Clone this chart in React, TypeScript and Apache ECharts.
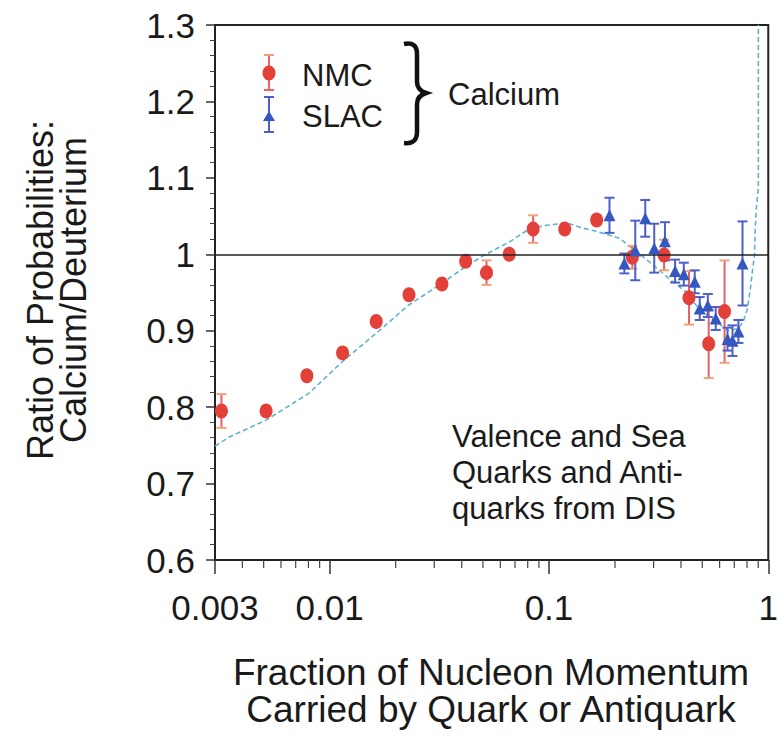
import React, { useEffect, useRef } from 'react';
import * as echarts from 'echarts';

// NMC (Calcium/Deuterium) data
const nmcX = [0.00321, 0.00513, 0.00787, 0.01145, 0.0163, 0.023, 0.0325, 0.0417, 0.0519, 0.0659, 0.0847, 0.118, 0.165, 0.24, 0.335, 0.435, 0.535, 0.632];
const nmcY = [0.795, 0.795, 0.841, 0.871, 0.912, 0.947, 0.961, 0.991, 0.976, 1.0, 1.033, 1.033, 1.045, 0.996, 0.999, 0.943, 0.883, 0.925];
const nmcErr = [0.022, 0.006, 0.006, 0.006, 0.006, 0.006, 0.006, 0.006, 0.016, 0.006, 0.018, 0.006, 0.006, 0.015, 0.02, 0.035, 0.045, 0.067];

// SLAC data
const slacX = [0.1888, 0.2207, 0.2475, 0.2748, 0.302, 0.338, 0.376, 0.412, 0.462, 0.487, 0.53, 0.576, 0.652, 0.687, 0.731, 0.763];
const slacY = [1.051, 0.988, 1.005, 1.047, 1.008, 1.017, 0.978, 0.974, 0.964, 0.929, 0.933, 0.916, 0.889, 0.887, 0.899, 0.988];
const slacErr = [0.023, 0.013, 0.039, 0.024, 0.032, 0.025, 0.015, 0.015, 0.015, 0.015, 0.015, 0.015, 0.015, 0.02, 0.015, 0.055];

// Theory curve
const curveX = [0.003, 0.00349, 0.00513, 0.00803, 0.01157, 0.01667, 0.02276, 0.0325, 0.0417, 0.0508, 0.0667, 0.082, 0.098, 0.1206, 0.1439, 0.165, 0.2094, 0.25, 0.2986, 0.353, 0.421, 0.482, 0.575, 0.659, 0.731, 0.771, 0.804, 0.829, 0.847, 0.865, 0.873, 0.883, 0.901, 0.901];
const curveY = [0.749, 0.761, 0.783, 0.818, 0.861, 0.899, 0.933, 0.962, 0.984, 0.999, 1.017, 1.034, 1.038, 1.041, 1.034, 1.03, 1.021, 1.004, 0.986, 0.968, 0.951, 0.929, 0.912, 0.9, 0.903, 0.913, 0.929, 0.955, 0.978, 0.999, 1.034, 1.061, 1.087, 1.3];

const xMinorTicks = [0.004, 0.005, 0.006, 0.007, 0.008, 0.009, 0.02, 0.03, 0.04, 0.05, 0.06, 0.07, 0.08, 0.09, 0.2, 0.3, 0.4, 0.5, 0.6, 0.7, 0.8, 0.9];

const yTitle = ['Ratio of Probabilities:', 'Calcium/Deuterium'];
const xTitle = ['Fraction of Nucleon Momentum', 'Carried by Quark or Antiquark'];
const noteLines = ['Valence and Sea', 'Quarks and Anti-', 'quarks from DIS'];

const FONT = "'Liberation Sans', Arial, Helvetica, sans-serif";
const TXT = '#1a1a1a';
const RED = '#e3403a';
const RED_BAR = '#e8606a';
const RED_CAP = '#eea27a';
const BLUE = '#3558c0';
const BLUE_BAR = '#4d60c8';

echarts.graphic.registerShape(
  'brace',
  echarts.graphic.extendPath(
    'M 404 44 C 413 42 417 46 417 54 L 417 82 C 417 88 420 91 426 93 C 420 95 417 98 417 104 L 417 132 C 417 140 413 144 404 143',
    {}
  )
);

function errRender(barColor: string, capColor: string) {
  return (params: any, api: any) => {
    const x = api.value(0);
    const y = api.value(1);
    const e = api.value(2);
    const top = api.coord([x, y + e]);
    const bot = api.coord([x, y - e]);
    const hw = 5;
    return {
      type: 'group',
      children: [
        { type: 'line', shape: { x1: top[0], y1: top[1], x2: bot[0], y2: bot[1] }, style: { stroke: barColor, lineWidth: 2 } },
        { type: 'line', shape: { x1: top[0] - hw, y1: top[1], x2: top[0] + hw, y2: top[1] }, style: { stroke: capColor, lineWidth: 2 } },
        { type: 'line', shape: { x1: bot[0] - hw, y1: bot[1], x2: bot[0] + hw, y2: bot[1] }, style: { stroke: capColor, lineWidth: 2 } },
      ],
    };
  };
}

export default function App() {
  const ref = useRef<HTMLDivElement>(null);
  useEffect(() => {
    document.body.style.margin = '0';
    const chart = echarts.init(ref.current!, null, { renderer: 'svg' });
    const nmcData = nmcX.map((x, i) => [x, nmcY[i], nmcErr[i]]);
    const slacData = slacX.map((x, i) => [x, slacY[i], slacErr[i]]);
    const curveData = curveX.map((x, i) => [x, curveY[i]]);
    const option: any = {
      animation: false,
      backgroundColor: '#ffffff',
      grid: { left: 215, top: 25, right: 5, bottom: 176, show: true, borderColor: '#222', borderWidth: 2, backgroundColor: 'transparent' },
      xAxis: {
        type: 'log',
        logBase: 10,
        min: 0.003,
        max: 1,
        axisLine: { show: true, lineStyle: { color: '#222', width: 2 } },
        axisTick: { show: true, length: 14, lineStyle: { color: '#333', width: 1.5 } },
        splitLine: { show: false },
        axisLabel: {
          fontFamily: FONT,
          fontSize: 35,
          color: TXT,
          margin: 30,
          showMinLabel: true,
          showMaxLabel: true,
          formatter: (v: number) => String(+Number(v).toPrecision(3)),
        },
      },
      yAxis: {
        type: 'value',
        min: 0.6,
        max: 1.3,
        interval: 0.1,
        axisLine: { show: true, lineStyle: { color: '#222', width: 2 } },
        axisTick: { show: true, length: 9, lineStyle: { color: '#333', width: 1.5 } },
        minorTick: { show: true, splitNumber: 5, length: 5, lineStyle: { color: '#444', width: 1 } },
        splitLine: { show: false },
        axisLabel: {
          fontFamily: FONT,
          fontSize: 35,
          color: TXT,
          margin: 20,
          formatter: (v: number) => (Math.abs(v - 1) < 1e-9 ? '1' : v.toFixed(1)),
        },
      },
      series: [
        {
          type: 'line',
          name: 'curve',
          data: curveData,
          showSymbol: false,
          symbol: 'none',
          lineStyle: { color: '#5fb3cc', width: 1.6, type: [5, 3] },
          z: 2,
          markLine: {
            silent: true,
            symbol: 'none',
            label: { show: false },
            lineStyle: { color: '#222', width: 1.5, type: 'solid' },
            data: [{ yAxis: 1 }],
          },
        },
        {
          type: 'custom',
          name: 'xminor',
          data: xMinorTicks.map((v) => [v, 0.6]),
          clip: false,
          silent: true,
          renderItem: (params: any, api: any) => {
            const p = api.coord([api.value(0), 0.6]);
            return { type: 'line', shape: { x1: p[0], y1: p[1], x2: p[0], y2: p[1] + 8 }, style: { stroke: '#444', lineWidth: 1.2 } };
          },
          z: 1,
        },
        {
          type: 'custom',
          name: 'nmcErr',
          data: nmcData,
          encode: { x: 0, y: 1 },
          renderItem: errRender(RED_BAR, RED_CAP),
          z: 3,
        },
        {
          type: 'custom',
          name: 'slacErr',
          data: slacData,
          encode: { x: 0, y: 1 },
          renderItem: errRender(BLUE_BAR, BLUE_BAR),
          z: 3,
        },
        {
          type: 'scatter',
          name: 'NMC',
          data: nmcData.map((d) => [d[0], d[1]]),
          symbol: 'circle',
          symbolSize: [13, 15],
          itemStyle: { color: RED, opacity: 1 },
          z: 4,
        },
        {
          type: 'scatter',
          name: 'SLAC',
          data: slacData.map((d) => [d[0], d[1]]),
          symbol: 'triangle',
          symbolSize: 12,
          itemStyle: { color: BLUE, opacity: 1 },
          z: 5,
        },
      ],
      graphic: [
        // legend: NMC
        { type: 'line', shape: { x1: 269, y1: 55, x2: 269, y2: 90 }, style: { stroke: RED_BAR, lineWidth: 2 } },
        { type: 'line', shape: { x1: 264, y1: 55, x2: 274, y2: 55 }, style: { stroke: RED_CAP, lineWidth: 2 } },
        { type: 'line', shape: { x1: 264, y1: 90, x2: 274, y2: 90 }, style: { stroke: RED_BAR, lineWidth: 2 } },
        { type: 'ellipse', shape: { cx: 269, cy: 73, rx: 6.5, ry: 7.5 }, style: { fill: RED } },
        { type: 'text', x: 302, y: 75, style: { text: 'NMC', font: `31px ${FONT}`, fill: TXT, textAlign: 'left', textVerticalAlign: 'middle' } },
        // legend: SLAC
        { type: 'line', shape: { x1: 269, y1: 97, x2: 269, y2: 132 }, style: { stroke: BLUE_BAR, lineWidth: 2 } },
        { type: 'line', shape: { x1: 264, y1: 97, x2: 274, y2: 97 }, style: { stroke: BLUE_BAR, lineWidth: 2 } },
        { type: 'line', shape: { x1: 264, y1: 132, x2: 274, y2: 132 }, style: { stroke: BLUE_BAR, lineWidth: 2 } },
        { type: 'polygon', shape: { points: [[269, 111], [275, 121], [263, 121]] }, style: { fill: BLUE } },
        { type: 'text', x: 302, y: 116, style: { text: 'SLAC', font: `31px ${FONT}`, fill: TXT, textAlign: 'left', textVerticalAlign: 'middle' } },
        // brace + Calcium
        { type: 'brace', style: { stroke: '#111', lineWidth: 4.5, fill: 'none' } },
        { type: 'text', x: 448, y: 94, style: { text: 'Calcium', font: `31px ${FONT}`, fill: TXT, textAlign: 'left', textVerticalAlign: 'middle' } },
        // note
        ...noteLines.map((t, i) => ({
          type: 'text',
          x: 452,
          y: 436 + i * 36,
          style: { text: t, font: `31px ${FONT}`, fill: TXT, textAlign: 'left', textVerticalAlign: 'middle' },
        })),
        // y title
        ...yTitle.map((t, i) => ({
          type: 'text',
          x: 40 + i * 33,
          y: 290,
          rotation: Math.PI / 2,
          style: { text: t, font: `36px ${FONT}`, fill: TXT, textAlign: 'center', textVerticalAlign: 'middle' },
        })),
        // x title
        ...xTitle.map((t, i) => ({
          type: 'text',
          x: 491,
          y: 672 + i * 37,
          style: { text: t, font: `37px ${FONT}`, fill: TXT, textAlign: 'center', textVerticalAlign: 'middle' },
        })),
      ],
    };
    chart.setOption(option);
    return () => chart.dispose();
  }, []);
  return <div ref={ref} style={{ position: 'fixed', left: 0, top: 0, width: 781, height: 736, background: '#fff' }} />;
}
